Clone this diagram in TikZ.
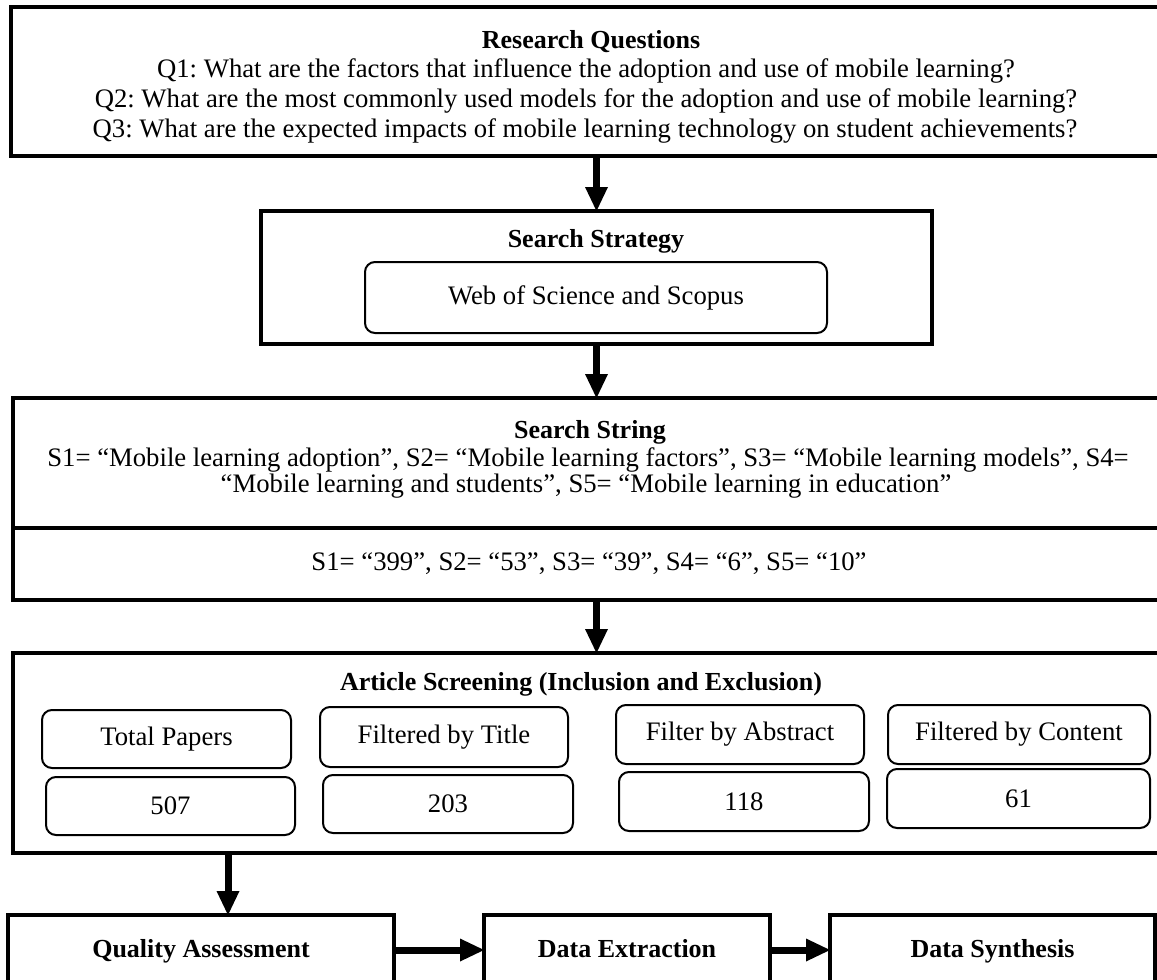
\documentclass[tikz,border=0pt]{standalone}
\usepackage{fontspec}
\setmainfont{Liberation Serif}
\usetikzlibrary{arrows.meta,calc}
\frenchspacing
\newcommand\fsz{\fontsize{26.7}{30}\selectfont}
\newcommand\fszb{\fontsize{26}{30}\selectfont\bfseries}
\tikzset{
  obox/.style={draw, line width=3.5pt, rectangle, inner sep=0pt, outer sep=0pt, anchor=north west, font=\fszb},
  bbox/.style={obox, text height=19pt, text depth=5pt},
  rbox/.style={draw, line width=2pt, rounded corners=10pt, inner sep=0pt, outer sep=0pt, anchor=north west, font=\fsz},
  arr/.style={line width=7pt, -{Triangle[width=23pt,length=24pt,line width=0pt]}},
  txt/.style={inner sep=0pt, anchor=base, font=\fsz},
  ttl/.style={inner sep=0pt, anchor=base, font=\fszb},
}
\begin{document}
\begin{tikzpicture}[x=1pt,y=-1pt]
\useasboundingbox (0,0) rectangle (1157,980);
% boxes
\node[obox, minimum width=1154pt, minimum height=149pt] (rq) at (11,7) {};
\node[obox, minimum width=671pt, minimum height=133pt] (ss) at (261,211) {};
\node[rbox, minimum width=462pt, minimum height=71pt] (wos) at (365,262) {Web of Science and Scopus};
\node[obox, minimum width=1152pt, minimum height=130pt] (sstr) at (13,398) {};
\node[obox, minimum width=1152pt, minimum height=72pt, font=\fsz] (sval) at (13,528) {S1= “399”, S2= “53”, S3= “39”, S4= “6”, S5= “10”};
\node[obox, minimum width=1152pt, minimum height=200pt] (scr) at (13,653) {};
\node[rbox, minimum width=249pt, minimum height=58pt] (tp) at (42,710) {Total Papers};
\node[rbox, minimum width=249pt, minimum height=58pt] (n507) at (46,777) {507};
\node[rbox, minimum width=248pt, minimum height=60pt] (fbt) at (320,707) {Filtered by Title};
\node[rbox, minimum width=250pt, minimum height=58pt] (n203) at (323,775) {203};
\node[rbox, minimum width=248pt, minimum height=59pt] (fba) at (616,705) {Filter by Abstract};
\node[rbox, minimum width=250pt, minimum height=59pt] (n118) at (619,772) {118};
\node[rbox, minimum width=262pt, minimum height=59pt] (fbc) at (888,705) {Filtered by Content};
\node[rbox, minimum width=263pt, minimum height=59pt] (n61) at (887,769) {61};
\node[bbox, minimum width=386pt, minimum height=70pt] (qa) at (8,915) {Quality Assessment};
\node[bbox, minimum width=286pt, minimum height=70pt] (de) at (484,915) {Data Extraction};
\node[bbox, minimum width=325pt, minimum height=70pt] (ds) at (830,915) {Data Synthesis};
% texts
\node[ttl] (rqt) at (591,48) {Research Questions};
\node[txt] (q1) at (586,77) {Q1: What are the factors that influence the adoption and use of mobile learning?};
\node[txt] (q2) at (586,107) {Q2: What are the most commonly used models for the adoption and use of mobile learning?};
\node[txt] (q3) at (585,137) {Q3: What are the expected impacts of mobile learning technology on student achievements?};
\node[ttl] (sst) at (596,247) {Search Strategy};
\node[ttl] (sstrt) at (590,438) {Search String};
\node[txt] (s1) at (588,466) {S1= “Mobile learning adoption”, S2= “Mobile learning factors”, S3= “Mobile learning models”, S4=};
\node[txt] (s2) at (586,492) {“Mobile learning and students”, S5= “Mobile learning in education”};
\node[ttl] (scrt) at (581,690) {Article Screening (Inclusion and Exclusion)};
% arrows
\coordinate (ax) at (228,0);
\draw[arr] (rq.south -| ss.north) -- (ss.north);
\draw[arr] (ss.south) -- (ss.south |- sstr.north);
\draw[arr] (sval.south -| ss.south) -- (scr.north -| ss.south);
\draw[arr] (scr.south -| ax) -- (qa.north -| ax);
\draw[arr] (qa.east) -- (de.west);
\draw[arr] (de.east) -- (ds.west);
\end{tikzpicture}
\end{document}
